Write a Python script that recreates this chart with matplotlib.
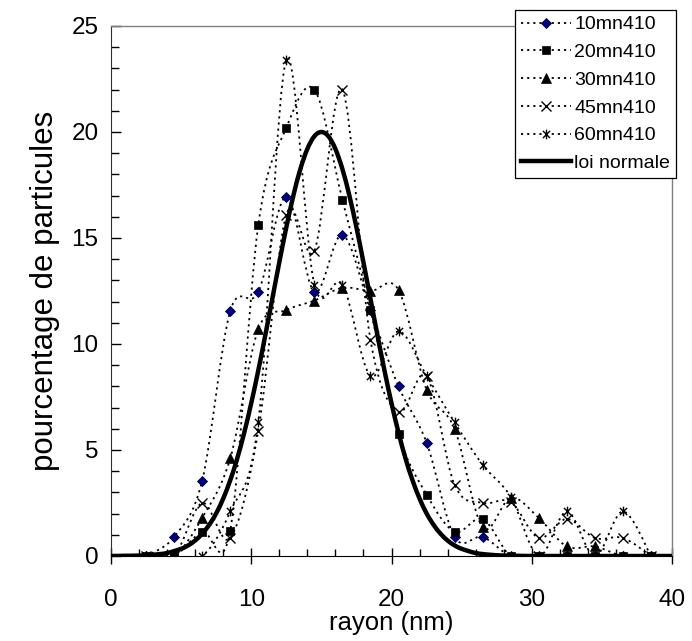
import matplotlib
matplotlib.use("Agg")
import matplotlib.pyplot as plt
import numpy as np
from matplotlib.path import Path
from matplotlib.patches import PathPatch
from matplotlib.lines import Line2D
from matplotlib.ticker import MultipleLocator

plt.rcParams['font.family'] = ['Liberation Sans', 'DejaVu Sans']

# ---- data ----
rayon = [2.5, 4.5, 6.5, 8.5, 10.5, 12.5, 14.5, 16.5, 18.5, 20.5,
         22.5, 24.5, 26.5, 28.5, 30.5, 32.5, 34.5, 36.5, 38.5]
s10 = [0, 0.9, 3.55, 11.55, 12.45, 16.95, 12.45, 15.15, 11.6, 8.0,
       5.35, 0.9, 0.9, 0, 0, 0, 0, 0, 0]
s20 = [0, 0, 1.15, 1.2, 15.6, 20.2, 22.0, 16.8, 11.6, 5.75,
       2.9, 1.15, 1.75, 0, 0, 0, 0, 0, 0]
s30 = [0, 0, 1.8, 4.6, 10.7, 11.6, 12.05, 12.65, 12.5, 12.55,
       7.85, 6.0, 1.35, 2.75, 1.8, 0.45, 0.45, 0, 0]
s45 = [0, 0, 2.5, 0.85, 5.9, 16.1, 14.4, 22.0, 10.2, 6.8,
       8.5, 3.35, 2.5, 2.55, 0.85, 1.75, 0.85, 0.85, 0]
s60 = [0, 0, 0, 2.1, 6.3, 23.4, 12.8, 12.8, 8.5, 10.6,
       8.5, 6.3, 4.3, 2.8, 0, 2.1, 0, 2.1, 0]

loi_x = [0, 1, 2, 3, 4, 5, 5.5, 6, 6.5, 7, 7.5, 8, 8.5, 9, 9.5, 10, 10.5, 11, 11.5,
         12, 12.5, 13, 13.5, 14, 14.5, 15, 15.5, 16, 16.5, 17, 17.5, 18, 18.5,
         19, 19.5, 20, 20.5, 21, 21.5, 22, 22.5, 23, 23.5, 24, 24.5, 25, 26, 27,
         28, 29, 30, 32, 35, 40]
loi_y = [0, 0.01, 0.02, 0.06, 0.14, 0.34, 0.50, 0.73, 1.05, 1.47, 2.01, 2.71,
         3.57, 4.60, 5.82, 7.21, 8.75, 10.41, 12.13, 13.85, 15.50, 16.99, 18.25,
         19.20, 19.80, 20.0, 19.80, 19.20, 18.25, 16.99, 15.50, 13.85, 12.13,
         10.41, 8.75, 7.21, 5.82, 4.60, 3.57, 2.71, 2.01, 1.47, 1.05, 0.73, 0.50,
         0.34, 0.14, 0.06, 0.02, 0.01, 0, 0, 0, 0]

labels = ['10mn410', '20mn410', '30mn410', '45mn410', '60mn410', 'loi normale']

# custom asterisk marker (x with vertical bar)
ast = Path([(-1, -1), (1, 1), (-1, 1), (1, -1), (0, -1.35), (0, 1.35)],
           [Path.MOVETO, Path.LINETO, Path.MOVETO, Path.LINETO, Path.MOVETO, Path.LINETO])

styles = [
    dict(marker='D', ms=5.2, mfc='#000080', mec='#000040', mew=0.6),
    dict(marker='s', ms=5.8, mfc='k', mec='k', mew=0.5),
    dict(marker='^', ms=7, mfc='k', mec='k', mew=0.5),
    dict(marker='x', ms=6.5, mfc='none', mec='k', mew=1.0),
    dict(marker=ast, ms=7, mfc='none', mec='k', mew=1.0),
]


def smooth_path(xs, ys):
    xs = np.asarray(xs, float)
    ys = np.asarray(ys, float)
    P = np.column_stack([xs, ys])
    n = len(P)
    verts = [P[0]]
    codes = [Path.MOVETO]
    for i in range(n - 1):
        p0 = P[i - 1] if i > 0 else P[i]
        p1 = P[i]
        p2 = P[i + 1]
        p3 = P[i + 2] if i + 2 < n else P[i + 1]
        c1 = p1 + (p2 - p0) / 6.0
        c2 = p2 - (p3 - p1) / 6.0
        verts += [c1, c2, p2]
        codes += [Path.CURVE4, Path.CURVE4, Path.CURVE4]
    return Path(verts, codes)


fig = plt.figure(figsize=(6.92, 6.41), dpi=100)
ax = fig.add_axes([111 / 692, 1 - 556 / 641, (672 - 111) / 692, (556 - 26) / 641])

dot = (0, (1.2, 2.2))
handles = []
for ys, st, lab in zip([s10, s20, s30, s45, s60], styles, labels[:5]):
    ax.add_patch(PathPatch(smooth_path(rayon, ys), facecolor='none', edgecolor='k',
                           lw=1.3, linestyle=dot, zorder=2))
    ax.plot(rayon, ys, linestyle='none', zorder=4, **st)
    handles.append(Line2D([], [], color='k', lw=1.3, linestyle=dot, **st))

ax.add_patch(PathPatch(smooth_path(loi_x, loi_y), facecolor='none', edgecolor='k',
                       lw=3.2, zorder=3, capstyle='butt'))
handles.append(Line2D([], [], color='k', lw=3.2))

ax.set_xlim(0, 40)
ax.set_ylim(0, 25)
ax.set_xticks([0, 10, 20, 30, 40])
ax.xaxis.set_minor_locator(MultipleLocator(2))
ax.set_yticks([0, 5, 10, 15, 20, 25])
ax.yaxis.set_minor_locator(MultipleLocator(1))

ax.tick_params(axis='x', which='major', direction='inout', length=12, width=1,
               labelsize=17.5, pad=18, colors='k')
ax.tick_params(axis='x', which='minor', direction='in', length=5, width=1)
ax.tick_params(axis='y', which='major', direction='in', length=7, width=1,
               labelsize=17.5, pad=9)
ax.tick_params(axis='y', which='minor', direction='in', length=5.5, width=1)

for s in ['top', 'right']:
    ax.spines[s].set_color('#808080')
    ax.spines[s].set_linewidth(1)
ax.spines['left'].set_color('#303030')
ax.spines['bottom'].set_color('k')

ax.set_xlabel('rayon (nm)', fontsize=18.5, labelpad=0)
ax.set_ylabel('pourcentage de particules', fontsize=22.5, labelpad=8)

leg = fig.legend(handles, labels, loc='upper left', bbox_to_anchor=(515 / 692, 1 - 10 / 641),
                 bbox_transform=fig.transFigure, fontsize=14, frameon=True, fancybox=False,
                 edgecolor='k', framealpha=1, numpoints=1, handlelength=2.6,
                 handletextpad=0.15, labelspacing=0.52, borderpad=0.3, borderaxespad=0)
leg.get_frame().set_linewidth(0.9)

fig.savefig('out.png', dpi=100)
